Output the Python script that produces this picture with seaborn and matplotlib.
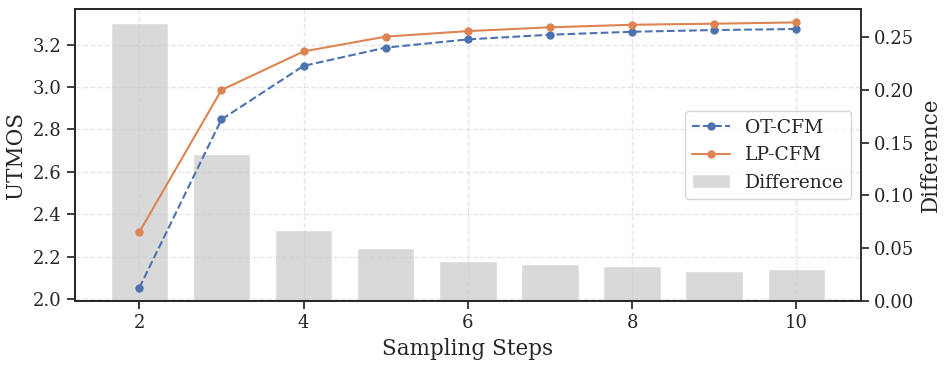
import numpy as np
import matplotlib
matplotlib.use("Agg")
import matplotlib.pyplot as plt
import seaborn as sns

sns.set_theme(style="ticks", palette="deep")
plt.rcParams.update({
    "font.family": "DejaVu Serif",
    "font.size": 13, "axes.labelsize": 15.5,
    "xtick.labelsize": 13, "ytick.labelsize": 13, "legend.fontsize": 13.5,
})

steps = [2, 3, 4, 5, 6, 7, 8, 9, 10]
ot_cfm = [2.052, 2.847, 3.100, 3.186, 3.225, 3.247, 3.261, 3.269, 3.274]
lp_cfm = [2.315, 2.986, 3.168, 3.238, 3.264, 3.282, 3.294, 3.299, 3.305]
difference = [0.263, 0.139, 0.067, 0.050, 0.038, 0.035, 0.033, 0.029, 0.030]

colors = sns.color_palette("deep")

fig, ax = plt.subplots(figsize=(9.47, 3.66), dpi=100)
fig.subplots_adjust(left=0.079, right=0.909, bottom=0.177, top=0.975)
ax2 = ax.twinx()

# bars on the twin axis, lines on top
ax2.bar(steps, difference, width=0.7, color="#d9d9d9", label="Difference")
ax2.set_ylabel("Difference")
ax.set_zorder(ax2.get_zorder() + 1)
ax.patch.set_visible(False)

sns.lineplot(x=steps, y=ot_cfm, ax=ax, color=colors[0], linestyle="--",
             marker="o", markersize=6, markeredgewidth=0, linewidth=1.5, label="OT-CFM")
sns.lineplot(x=steps, y=lp_cfm, ax=ax, color=colors[1], linestyle="-",
             marker="o", markersize=6, markeredgewidth=0, linewidth=1.5, label="LP-CFM")

ax.set_xlabel("Sampling Steps")
ax.set_ylabel("UTMOS")
ax.set_xticks([2, 4, 6, 8, 10])
ax.set_yticks([2.0, 2.2, 2.4, 2.6, 2.8, 3.0, 3.2])
ax2.set_yticks([0.0, 0.05, 0.10, 0.15, 0.20, 0.25])
ax.grid(True, linestyle="--", alpha=0.5)

for a in (ax, ax2):
    for s in a.spines.values():
        s.set_visible(True)
ax2.spines["right"].set_color("#888888")

h1, l1 = ax.get_legend_handles_labels()
h2, l2 = ax2.get_legend_handles_labels()
ax.legend(h1 + h2, l1 + l2, loc="center right", framealpha=0.8)

plt.savefig("out.png", dpi=100)
plt.close()
